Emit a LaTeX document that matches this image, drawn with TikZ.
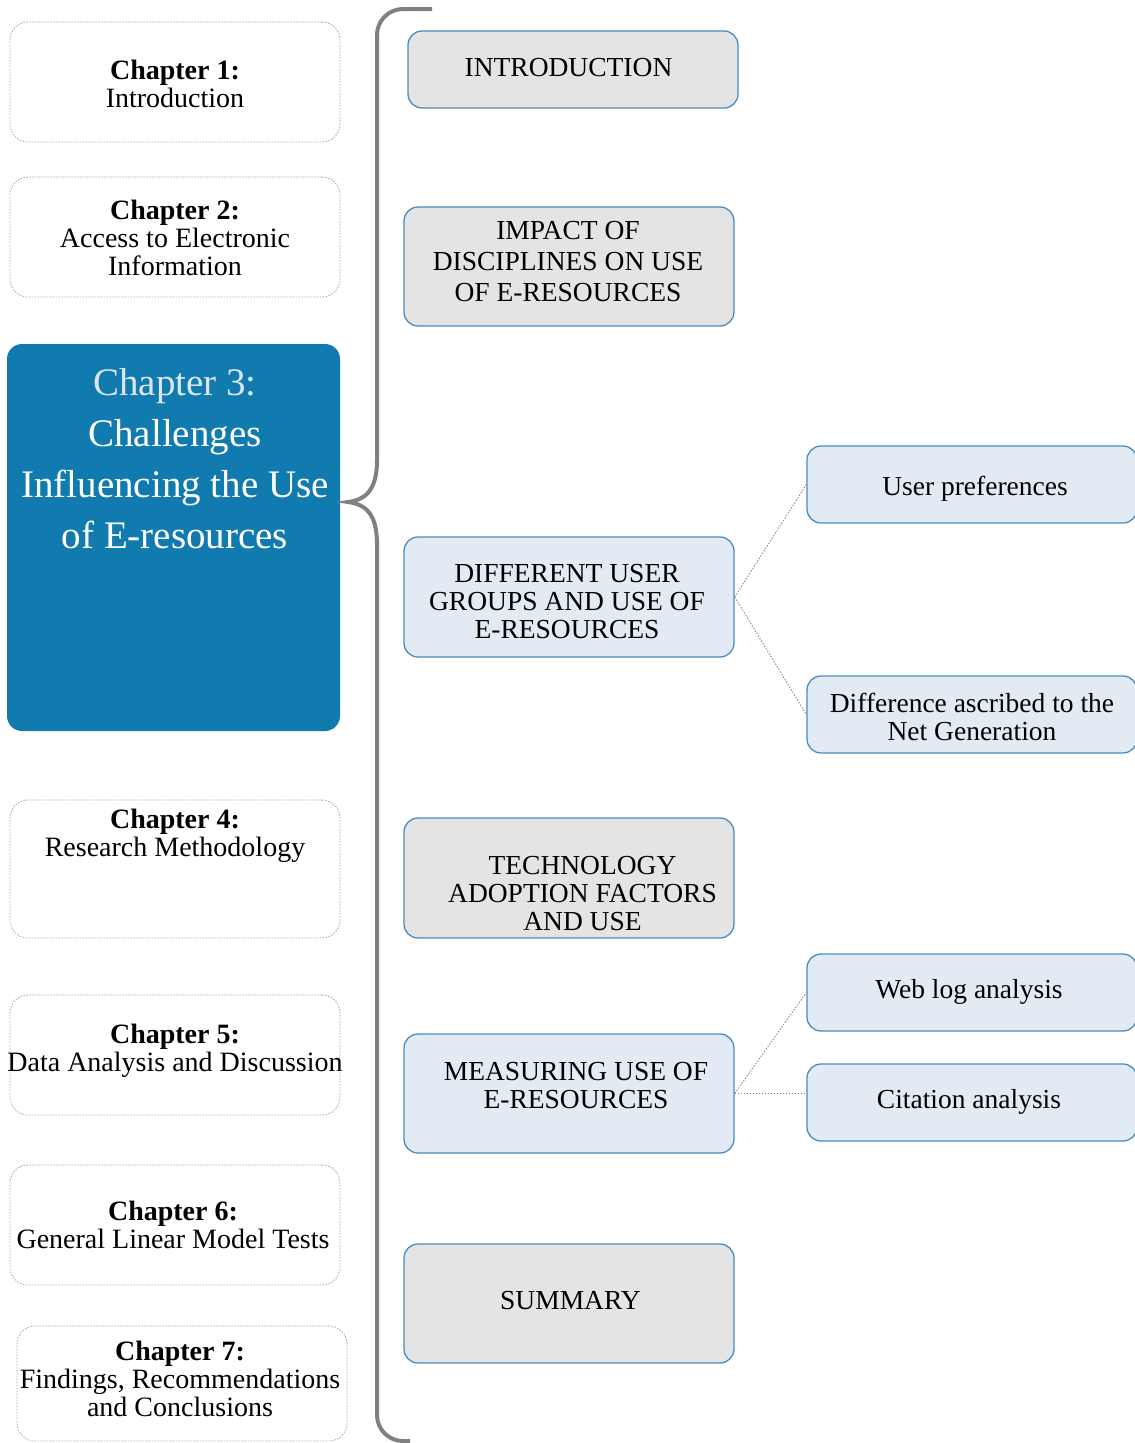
\documentclass[tikz,border=0pt]{standalone}
\usepackage{fontspec}
\setmainfont{Liberation Serif}
\definecolor{bluebd}{HTML}{4A8CBF}
\definecolor{grayfill}{HTML}{E4E4E4}
\definecolor{bluefill}{HTML}{E2EBF3}
\definecolor{chblue}{HTML}{117AAF}
\definecolor{dotgray}{HTML}{A8A8A8}
\definecolor{bracegray}{HTML}{808080}
\definecolor{chtitle}{HTML}{DCE6EE}
\begin{document}
\begin{tikzpicture}[x=1pt,y=-1pt,
  chapbox/.style={draw=dotgray, dash pattern=on 1.6pt off 1.4pt, line width=0.8pt, rounded corners=18pt, minimum width=330pt, inner sep=0pt},
  topicG/.style={draw=bluebd, line width=1.3pt, fill=grayfill, rounded corners=14pt, minimum width=330pt, inner sep=0pt},
  topicB/.style={draw=bluebd, line width=1.3pt, fill=bluefill, rounded corners=14pt, minimum width=330pt, inner sep=0pt},
  lbl/.style={align=center, inner sep=0pt, font=\fontsize{28}{28}\selectfont},
  rlbl/.style={align=center, inner sep=0pt, font=\fontsize{27.5}{28}\selectfont},
  conn/.style={draw=gray, line width=0.8pt, dash pattern=on 1.5pt off 1.5pt}
]
\useasboundingbox (0,0) rectangle (1135,1443);

% left chapter boxes
\node[chapbox, minimum height=120pt] (c1) at (175,82) {};
\node[chapbox, minimum height=120pt] (c2) at (175,237) {};
\node[draw=none, fill=chblue, rounded corners=15pt, minimum width=333pt, minimum height=387pt, inner sep=0pt] (c3) at (173.5,537.5) {};
\node[chapbox, minimum height=138pt] (c4) at (175,869) {};
\node[chapbox, minimum height=120pt] (c5) at (175,1055) {};
\node[chapbox, minimum height=120pt] (c6) at (175,1225) {};
\node[chapbox, minimum height=115pt] (c7) at (182,1383.5) {};

\node[lbl] (t1) at (175,84) {\textbf{Chapter 1:}\\Introduction};
\node[lbl] (t2) at (175,237.5) {\textbf{Chapter 2:}\\Access to Electronic\\Information};
\node[align=center, inner sep=0pt, font=\fontsize{39}{51}\selectfont, text=white] (t3) at (175,459) {\textcolor{chtitle}{Chapter 3:}\\Challenges\\Influencing the Use\\of E-resources};
\node[lbl] (t4) at (175,836) {\textbf{Chapter 4:}\\Research Methodology};
\node[lbl] (t5) at (175,1051) {\textbf{Chapter 5:}\\Data Analysis and Discussion};
\node[lbl] (t6) at (173,1225) {\textbf{Chapter 6:}\\General Linear Model Tests};
\node[lbl] (t7) at (180,1379) {\textbf{Chapter 7:}\\Findings, Recommendations\\and Conclusions};

% brace
\draw[bracegray, line width=4pt, rounded corners=26pt] (432,9) -- (377,9) -- (377,462);
\draw[bracegray, line width=4pt] (377,460) .. controls (377,492) and (364,500) .. (348,502) .. controls (364,504) and (377,512) .. (377,544);
\draw[bracegray, line width=4pt, rounded corners=26pt] (377,540) -- (377,1441) -- (410,1441);

% topic boxes
\node[topicG, minimum height=77pt] (intro) at (573,69.5) {};
\node[topicG, minimum height=119pt] (impact) at (569,266.5) {};
\node[topicB, minimum height=120pt] (diff) at (569,597) {};
\node[topicG, minimum height=120pt] (tech) at (569,878) {};
\node[topicB, minimum height=119pt] (meas) at (569,1093.5) {};
\node[topicG, minimum height=119pt] (summ) at (569,1303.5) {};

\node[rlbl] (tintro) at (568.5,68) {INTRODUCTION};
\node[rlbl, font=\fontsize{27.5}{31}\selectfont] (timpact) at (568,261.5) {IMPACT OF\\DISCIPLINES ON USE\\OF E-RESOURCES};
\node[rlbl] (tdiff) at (567,602) {DIFFERENT USER\\GROUPS AND USE OF\\E-RESOURCES};
\node[rlbl] (ttech) at (582.5,894) {TECHNOLOGY\\ADOPTION FACTORS\\AND USE};
\node[rlbl] (tmeas) at (576,1086) {MEASURING USE OF\\E-RESOURCES};
\node[rlbl] (tsumm) at (570.5,1301) {SUMMARY};

% sub boxes
\node[topicB, minimum height=77pt] (up) at (972,484.5) {};
\node[topicB, minimum height=77pt] (dn) at (972,714.5) {};
\node[topicB, minimum height=77pt] (web) at (972,992.5) {};
\node[topicB, minimum height=77pt] (cit) at (972,1102.5) {};

\node[rlbl] (tup) at (975,489) {User preferences};
\node[rlbl] (tdn) at (972,717) {Difference ascribed to the\\Net Generation};
\node[rlbl] (tweb) at (969,992) {Web log analysis};
\node[rlbl] (tcit) at (969,1102) {Citation analysis};

% connectors
\draw[conn] (diff.east) -- (up.west);
\draw[conn] (diff.east) -- (dn.west);
\draw[conn] (meas.east) -- (web.west);
\draw[conn] (meas.east) -- (meas.east -| cit.west);
\end{tikzpicture}
\end{document}
